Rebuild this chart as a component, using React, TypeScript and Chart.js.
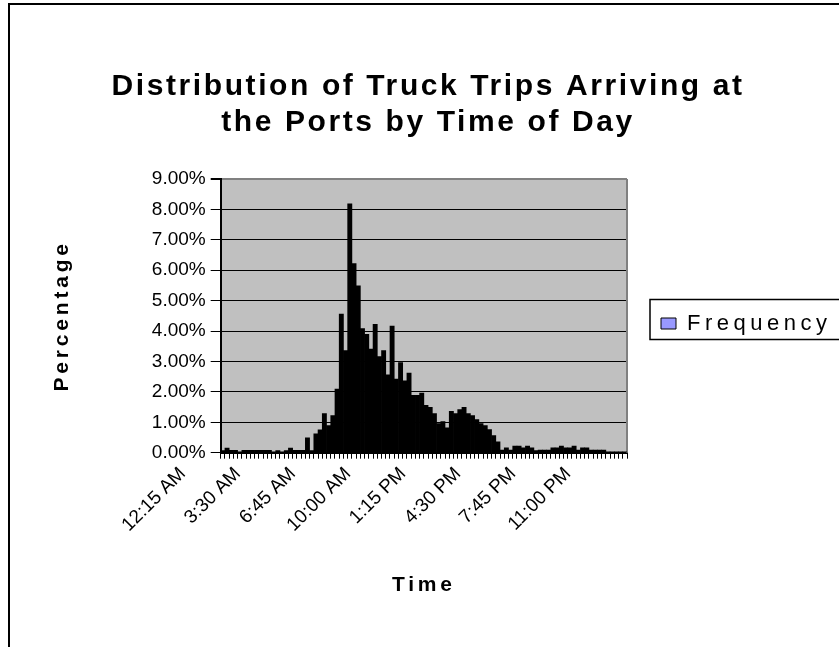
import React, { useEffect, useRef } from "react";
import { Chart, registerables } from "chart.js";

Chart.register(...registerables);

const categories: string[] = [
  "12:15 AM", "12:30 AM", "12:45 AM", "1:00 AM", "1:15 AM", "1:30 AM", "1:45 AM", "2:00 AM",
  "2:15 AM", "2:30 AM", "2:45 AM", "3:00 AM", "3:15 AM", "3:30 AM", "3:45 AM", "4:00 AM",
  "4:15 AM", "4:30 AM", "4:45 AM", "5:00 AM", "5:15 AM", "5:30 AM", "5:45 AM", "6:00 AM",
  "6:15 AM", "6:30 AM", "6:45 AM", "7:00 AM", "7:15 AM", "7:30 AM", "7:45 AM", "8:00 AM",
  "8:15 AM", "8:30 AM", "8:45 AM", "9:00 AM", "9:15 AM", "9:30 AM", "9:45 AM", "10:00 AM",
  "10:15 AM", "10:30 AM", "10:45 AM", "11:00 AM", "11:15 AM", "11:30 AM", "11:45 AM", "12:00 PM",
  "12:15 PM", "12:30 PM", "12:45 PM", "1:00 PM", "1:15 PM", "1:30 PM", "1:45 PM", "2:00 PM",
  "2:15 PM", "2:30 PM", "2:45 PM", "3:00 PM", "3:15 PM", "3:30 PM", "3:45 PM", "4:00 PM",
  "4:15 PM", "4:30 PM", "4:45 PM", "5:00 PM", "5:15 PM", "5:30 PM", "5:45 PM", "6:00 PM",
  "6:15 PM", "6:30 PM", "6:45 PM", "7:00 PM", "7:15 PM", "7:30 PM", "7:45 PM", "8:00 PM",
  "8:15 PM", "8:30 PM", "8:45 PM", "9:00 PM", "9:15 PM", "9:30 PM", "9:45 PM", "10:00 PM",
  "10:15 PM", "10:30 PM", "10:45 PM", "11:00 PM", "11:15 PM", "11:30 PM", "11:45 PM", "12:00 AM",
];

// Percentage of truck trips per 15-minute interval
const frequency: number[] = [
  0.07, 0.15, 0.08, 0.08, 0.03, 0.08, 0.08, 0.08, 0.08, 0.08, 0.08, 0.08,
  0.03, 0.07, 0.03, 0.07, 0.15, 0.08, 0.08, 0.08, 0.49, 0.07, 0.62, 0.75,
  1.29, 0.89, 1.22, 2.09, 4.56, 3.36, 8.18, 6.22, 5.49, 4.08, 3.89, 3.41,
  4.22, 3.16, 3.36, 2.56, 4.16, 2.42, 2.96, 2.36, 2.62, 1.89, 1.89, 1.96,
  1.56, 1.49, 1.29, 0.96, 1.02, 0.82, 1.36, 1.29, 1.42, 1.49, 1.29, 1.22,
  1.09, 0.96, 0.89, 0.76, 0.56, 0.36, 0.09, 0.16, 0.09, 0.22, 0.22, 0.16,
  0.22, 0.16, 0.07, 0.09, 0.09, 0.09, 0.16, 0.16, 0.22, 0.16, 0.16, 0.22,
  0.09, 0.16, 0.16, 0.09, 0.09, 0.09, 0.09, 0.03, 0.03, 0.03, 0.03, 0.03,
];

const shownTimeLabels: string[] = [
  "12:15 AM", "3:30 AM", "6:45 AM", "10:00 AM", "1:15 PM", "4:30 PM", "7:45 PM", "11:00 PM",
];

const yTickValues: number[] = [0, 1, 2, 3, 4, 5, 6, 7, 8, 9];

const seriesName = "Frequency";
const chartTitle: string[] = ["Distribution of Truck Trips Arriving at", "the Ports by Time of Day"];
const xAxisTitle = "Time";
const yAxisTitle = "Percentage";

const FONT = "'Liberation Sans', Arial, Helvetica, sans-serif";

export default function App() {
  const canvasRef = useRef<HTMLCanvasElement>(null);

  useEffect(() => {
    document.body.style.margin = "0";
    const canvas = canvasRef.current;
    if (!canvas) return;

    const wrapSpacing = (chart: any, box: any, spacing: string) => {
      if (!box || box.__spaced) return;
      const orig = box.draw.bind(box);
      box.draw = (...args: any[]) => {
        chart.ctx.letterSpacing = spacing;
        orig(...args);
        chart.ctx.letterSpacing = "0px";
      };
      box.__spaced = true;
    };

    const decorPlugin = {
      id: "decor",
      beforeLayout(chart: any) {
        const lg = chart.legend;
        if (lg && !lg.__fitPatched) {
          const f = lg.fit.bind(lg);
          lg.fit = () => {
            f();
            lg.width = 212;
          };
          lg.__fitPatched = true;
        }
      },
      beforeDraw(chart: any) {
        const { ctx, chartArea: a } = chart;
        ctx.save();
        ctx.fillStyle = "#C0C0C0";
        ctx.fillRect(a.left, a.top, a.right - a.left, a.bottom - a.top);
        ctx.restore();
        wrapSpacing(chart, chart.titleBlock, "2.6px");
        wrapSpacing(chart, chart.legend, "4.5px");
        ctx.letterSpacing = "3.8px";
      },
      beforeDatasetsDraw(chart: any) {
        const { ctx, chartArea: a } = chart;
        ctx.letterSpacing = "0px";
        ctx.save();
        ctx.strokeStyle = "#808080";
        ctx.lineWidth = 2;
        ctx.beginPath();
        ctx.moveTo(a.right, a.top);
        ctx.lineTo(a.right, a.bottom);
        ctx.stroke();
        ctx.restore();
      },
      afterDraw(chart: any) {
        const { ctx } = chart;
        ctx.letterSpacing = "0px";
        const hb = chart.legend && chart.legend.legendHitBoxes && chart.legend.legendHitBoxes[0];
        if (hb) {
          const cy = hb.top + hb.height / 2;
          ctx.save();
          ctx.strokeStyle = "#000";
          ctx.lineWidth = 1.5;
          ctx.strokeRect(hb.left - 11, cy - 24, 400, 40);
          ctx.restore();
        }
      },
    };

    const chart = new Chart(canvas, {
      type: "bar",
      data: {
        labels: categories,
        datasets: [
          {
            label: seriesName,
            data: frequency,
            backgroundColor: "#000000",
            borderWidth: 0,
            barPercentage: 1,
            categoryPercentage: 1,
          },
        ],
      },
      options: {
        responsive: false,
        animation: false,
        devicePixelRatio: 1,
        layout: { padding: { left: 17, right: 0, top: 0, bottom: 0 } },
        plugins: {
          title: {
            display: true,
            text: chartTitle,
            color: "#000",
            font: { family: FONT, size: 30, weight: "bold", lineHeight: 36 / 30 },
            padding: { top: 69, bottom: 38 },
          },
          legend: {
            display: true,
            position: "right",
            labels: {
              color: "#000",
              font: { family: FONT, size: 22 },
              boxWidth: 15,
              boxHeight: 11,
              padding: 34,
              generateLabels: () => [
                {
                  text: seriesName,
                  fillStyle: "#9999FF",
                  strokeStyle: "#000000",
                  lineWidth: 1,
                  hidden: false,
                  datasetIndex: 0,
                  fontColor: "#000",
                },
              ],
            },
          },
          tooltip: { enabled: false },
        },
        scales: {
          x: {
            type: "category",
            offset: true,
            grid: {
              display: true,
              drawOnChartArea: false,
              drawTicks: true,
              tickLength: 6,
              color: "#000",
              offset: true,
            },
            border: { display: true, color: "#000", width: 2 },
            ticks: {
              autoSkip: false,
              minRotation: 45,
              maxRotation: 45,
              padding: 4,
              labelOffset: -40,
              z: 1,
              color: "#000",
              font: { family: FONT, size: 19 },
              callback: (_v: any, i: number) =>
                shownTimeLabels.includes(categories[i]) ? categories[i] : "",
            },
            title: {
              display: true,
              text: xAxisTitle,
              color: "#000",
              font: { family: FONT, size: 21, weight: "bold", lineHeight: 1.2 },
              padding: { top: 0, bottom: 49 },
            },
            afterFit: (scale: any) => {
              scale.height = 647 - 452.7;
            },
          },
          y: {
            min: 0,
            max: 9,
            afterBuildTicks: (scale: any) => {
              scale.ticks = yTickValues.map((v) => ({ value: v }));
            },
            grid: {
              display: true,
              drawOnChartArea: true,
              drawTicks: true,
              tickLength: 10,
              tickColor: "#000",
              color: (c: any) => (c.tick && c.tick.value === 9 ? "#808080" : "#000"),
              lineWidth: (c: any) => (c.tick && c.tick.value === 9 ? 2 : 1),
            },
            border: { display: true, color: "#000", width: 2 },
            ticks: {
              padding: 5,
              z: 1,
              color: "#000",
              font: { family: FONT, size: 19 },
              callback: (v: any) => `${Number(v).toFixed(2)}%`,
            },
            title: {
              display: true,
              text: yAxisTitle,
              color: "#000",
              font: { family: FONT, size: 21, weight: "bold", lineHeight: 1.2 },
              padding: { top: 33, bottom: 0 },
            },
            afterFit: (scale: any) => {
              scale.width = 220.7 - 17;
            },
          },
        },
      },
      plugins: [decorPlugin],
    } as any);

    return () => {
      chart.destroy();
    };
  }, []);

  return (
    <div style={{ position: "relative", width: 839, height: 647, overflow: "hidden", background: "#fff" }}>
      <div
        style={{
          position: "absolute",
          left: 8,
          top: 3,
          width: 900,
          height: 800,
          border: "2px solid #000",
          boxSizing: "border-box",
        }}
      />
      <canvas
        ref={canvasRef}
        width={839}
        height={647}
        style={{ position: "absolute", left: 0, top: 0, width: 839, height: 647 }}
      />
    </div>
  );
}
